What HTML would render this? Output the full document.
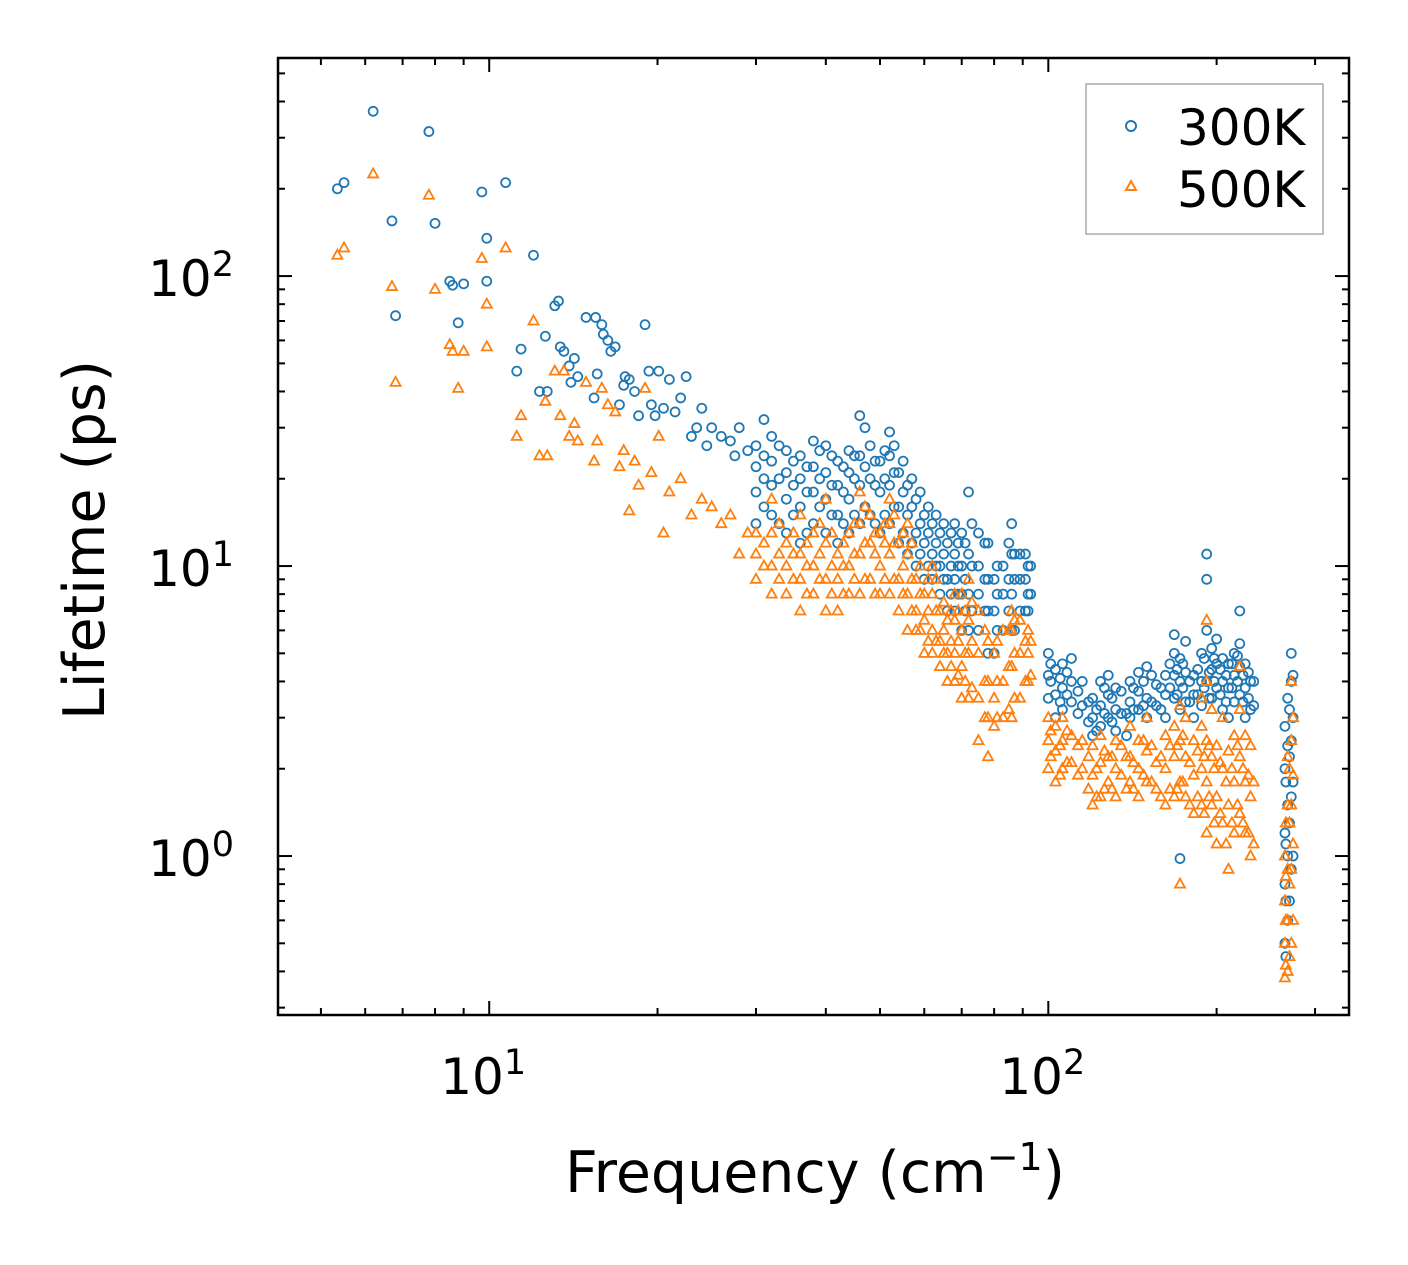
<!DOCTYPE html>
<html><head><meta charset="utf-8"><style>
body{margin:0;background:#fff}
svg{display:block;font-family:"DejaVu Sans","Liberation Sans",sans-serif}
</style></head><body>
<svg id="chart" width="1408" height="1265" viewBox="0 0 1408 1265" xmlns="http://www.w3.org/2000/svg">
<rect width="1408" height="1265" fill="#fff"/>
<g id="marks"></g>
<g id="axes"></g>
<rect x="278" y="58" width="1071" height="957" fill="none" stroke="#000" stroke-width="2.5"/>
<text x="815" y="1192" font-size="57" text-anchor="middle">Frequency (cm<tspan font-size="38" dy="-22">−1</tspan><tspan dy="22">)</tspan></text>
<text transform="translate(104,540) rotate(-90)" font-size="57" text-anchor="middle">Lifetime (ps)</text>
<g>
<rect x="1086" y="84" width="237" height="150" fill="#fff" stroke="#aaa" stroke-width="1.5"/>
<circle cx="1131" cy="126" r="5" fill="none" stroke="#1f77b4" stroke-width="2"/>
<text x="1177" y="145" font-size="50">300K</text>
<path d="M1131,181 L1136,190 L1126,190 Z" fill="none" stroke="#ff7f0e" stroke-width="2"/>
<text x="1177" y="207" font-size="50">500K</text>
</g>
</svg>
<script>
const lowFreq300 = [5.35,5.5,6.2,6.7,6.8,7.8,8.0,8.5,8.6,8.8,9.0,9.7,9.9,9.9,10.7,11.2,11.4,12.0,12.3,12.6,12.7,13.1,13.3,13.4,13.6,13.9,14.0,14.2,14.4,14.9,15.4,15.5,15.6,15.9,16.0,16.3,16.5,16.8,17.1,17.4,17.5,17.8,18.2,18.5,19.0,19.3,19.5,19.8,20.1,20.5,21,21.5,22,22.5,23,23.5,24,24.5,25,26,27,27.5,28,29,31,172];
const lowLife300 = [200,210,370,155,73,315,152,96,93,69,94,195,135,96,210,47,56,118,40,62,40,79,82,57,55,49,43,52,45,72,38,72,46,68,63,60,55,57,36,42,45,44,40,33,68,47,36,33,47,35,44,34,38,45,28,30,35,26,30,28,27,24,30,25,32,0.98];
const lowFreq500 = [5.35,5.5,6.2,6.7,6.8,7.8,8.0,8.5,8.6,8.8,9.0,9.7,9.9,9.9,10.7,11.2,11.4,12.0,12.3,12.6,12.7,13.1,13.4,13.6,13.9,14.2,14.4,14.9,15.4,15.6,15.9,16.3,16.8,17.1,17.4,17.8,18.2,18.5,19.0,19.5,20.1,20.5,21,22,23,24,25,26,27,28,29,172];
const lowLife500 = [118,125,225,92,43,190,90,58,55,41,55,115,80,57,125,28,33,70,24,37,24,47,33,47,28,31,27,43,23,27,41,36,34,22,25,15.5,23,19,41,21,28,13,18,20,15,17,16,14,15,11,13,0.8];
const bandFreq = [30,32,34,36,38,40,42,44,46,48,50,52,54,56,58,60,62,64,66,68,70,72,75,78,80,83,86,89,92,100,103,106,110,113,120,124,128,132,140,145,150,156,162,168,172,176,182,188,192,196,200,205,210,215,220,225,230,265,268,272];
const bandLife300 = [[14,18,22,26],[15,19,23,28],[13,17,21,25],[12,16,20,24],[14,18,22,27],[13,17,21,26],[12,15,19,23],[13,17,21,25],[14,19,24,33],[15,20,26],[13,18,23],[14,19,24,29],[12,16,21],[11,15,19],[10,13,17],[9,12,15],[9,11,14],[8,10,13],[7,9,12],[7,9,11,14],[6,8,10,13],[6,8,11,18],[6,8,10,13],[5,7,9,12],[5,7,9],[6,8,10],[6,8,11,14],[7,9,11],[7,8,10],[3.5,4.2,5],[3,3.6,4.4],[3.2,3.8,4.6],[3.4,4,4.8],[3.1,3.7],[2.6,3,3.5],[2.8,3.3,4],[3,3.6,4.2],[2.7,3.2,3.8],[3,3.4,4],[3.2,3.7,4.3],[3,3.5,4.5],[3.3,3.9],[3,3.6,4.2],[3.5,4.2,5,5.8],[3.2,4,4.8],[3.4,4.3,5.5],[3,3.6,4.2],[3.3,4,5],[4,6,9,11],[3.5,4.4,5.2],[3.8,4.6,5.6],[3.2,4,4.8],[3,3.8,4.6],[3.4,4.2,5],[3.6,4.5,5.4,7],[3,3.8,4.6],[3.2,4],[0.5,0.8,1.2,2,2.8],[0.6,1,1.5,2.4,3.5],[0.9,1.6,2.5,4,5]];
const bandLife500 = [[9,11,13],[8,10,13,17],[8,10,12],[7,9,11,15],[8,10,13],[7,9,12,17],[7,9,11],[8,10,13],[8,11,14,18],[9,12,15],[8,10,13],[8,11,14,17],[7,9,12],[6,8,11,14],[6,7,9],[5,6.5,8],[5,6,8,10],[4.5,5.5,7],[4,5,6.5],[4,5,6.5,8],[3.5,4.5,6,8],[3.5,5,6.5,9],[2.5,3.5,5,7],[2.2,3,4,5.5],[2.8,3.5,5],[3,4,6],[3,4.5,6,7],[3.5,5,6.5],[4,5,6],[2,2.5,3],[1.8,2.3,2.8],[2,2.5,3],[2.1,2.6],[1.9,2.4],[1.5,1.9,2.4],[1.6,2.1,2.6],[1.8,2.2],[1.6,2,2.5],[1.8,2.2,2.8],[1.6,2,2.5],[1.8,2.3,3],[1.7,2.1],[1.5,2,2.6],[1.6,2.2,2.8],[1.8,2.5,3.3],[1.6,2.2,3],[1.4,1.9,2.5],[1.5,2,2.8,3.5],[1.2,1.8,2.5,4,6.5],[1.5,2.2,3.2],[1.1,1.6,2.4],[1.3,2,3],[0.9,1.5,2.3],[1.2,1.8,2.6],[1.4,2.2,3.2,4.5],[1.2,1.8,2.6],[1,1.6,2.4],[0.38,0.5,0.7,1],[0.4,0.6,0.9,1.5,2.2],[0.5,0.9,1.5,2.5,4]];
const band2Freq = [31,33,35,37,39,41,43,45,47,49,51,53,55,57,59,61,63,65,67,69,71,73,77,81,85,87,91,93,101,105,108,115,118,122,126,130,135,138,142,148,153,159,165,170,174,179,185,190,194,198,203,208,213,218,223,228,233,266,270,274];
const band2Life300 = [[16,20,24],[14,20,26],[15,19,23],[13,18,22],[16,20,25],[15,19,24],[14,18,22],[15,20,24],[16,22,30],[14,19,23],[15,20,25],[16,21,26],[13,18,23],[12,16,20],[11,14,18],[10,13,16],[10,12,15],[9,11,14],[8,10,13],[8,10,12],[7,9,12],[7,10,14],[7,9,12],[6,8,10],[7,9,12],[6,9,11],[7,9,11],[8,10],[4,4.6],[3.4,4.1],[3.6,4.3],[3.3,4],[2.9,3.4],[2.7,3.2],[3.1,3.8],[2.9,3.5],[3.1,3.7],[2.6,3.1],[3.2,3.8],[3.3,4],[3.4,4.2],[3.2,3.8],[3.8,4.6],[3.6,4.4],[3.8,4.6],[3.4,4],[3.6,4.4],[3.8,4.8],[3.5,4.3],[4,4.8],[3.6,4.4],[3.4,4.2],[3.8,4.6],[4,4.9],[3.4,4.2],[3.5,4.3],[3.3,4],[0.45,0.7,1.1,1.8],[0.7,1.3,2.2,3.2],[1,1.8,3,4.2]];
const band2Life500 = [[10,12],[9,11,14],[9,11,13],[8,10,12],[9,11,14],[8,10,13],[8,10,12],[9,11,14],[9,12,16],[8,11,13],[9,12,14],[9,12,15],[8,10,13],[7,9,12],[6,8,10],[5.5,7,9],[5.5,7,9],[5,6,7.5],[4.5,5.5,7],[4.2,5.5,7],[4,5,7],[3.8,5.5,7.5],[3,4,6],[3,4,5.5],[3.2,4.5,6],[3.5,5,6.5],[4,5.5],[4.2,5.5],[2.2,2.7],[1.9,2.4],[2.1,2.7],[2,2.5],[1.7,2.2],[1.6,2],[1.7,2.3],[1.7,2.2],[1.9,2.4],[1.7,2.2],[1.7,2.1],[1.9,2.5],[1.8,2.4],[1.6,2.2],[1.7,2.4],[1.7,2.4],[1.8,2.6],[1.5,2.1],[1.6,2.3],[1.4,2.2],[1.6,2.4],[1.3,2],[1.4,2.1],[1.1,1.8],[1.3,2],[1.5,2.4],[1.3,2],[1.2,1.9],[1.1,1.8],[0.42,0.6,0.85,1.3],[0.45,0.8,1.3,2],[0.6,1.1,1.9,3]];
const xMajor = [10,100];
const yMajor = [1,10,100];

const X0=278,X1=1349,Y0=58,Y1=1015;
const xmin=Math.log10(4.19), xmax=Math.log10(345), ymin=Math.log10(0.283), ymax=Math.log10(565);
const xs=v=>X0+(Math.log10(v)-xmin)/(xmax-xmin)*(X1-X0);
const ys=v=>Y1-(Math.log10(v)-ymin)/(ymax-ymin)*(Y1-Y0);
const NS="http://www.w3.org/2000/svg";
const marks=document.getElementById('marks'), axes=document.getElementById('axes');
function mk(tag,attrs,parent){const e=document.createElementNS(NS,tag);for(const k in attrs)e.setAttribute(k,attrs[k]);parent.appendChild(e);return e;}

function circ(f,l){const c=mk('circle',{cx:xs(f),cy:ys(l),r:4.5,fill:'none',stroke:'#1f77b4','stroke-width':1.8},marks);

}
function tri(f,l){const x=xs(f),y=ys(l);const p=mk('path',{d:`M${x},${y-5.5} L${x+5},${y+3.5} L${x-5},${y+3.5} Z`,fill:'none',stroke:'#ff7f0e','stroke-width':1.8},marks);

}

function drawGroups(fr,lv,fn){fr.forEach((f,i)=>{(lv[i]||[]).forEach(l=>fn(f,l));});}
lowFreq300.forEach((f,i)=>circ(f,lowLife300[i]));
drawGroups(bandFreq,bandLife300,circ);
drawGroups(band2Freq,band2Life300,circ);
lowFreq500.forEach((f,i)=>tri(f,lowLife500[i]));
drawGroups(bandFreq,bandLife500,tri);
drawGroups(band2Freq,band2Life500,tri);

function xtick(v,len){const x=xs(v);mk('line',{x1:x,x2:x,y1:Y1,y2:Y1-len,stroke:'#000','stroke-width':2},axes);mk('line',{x1:x,x2:x,y1:Y0,y2:Y0+len,stroke:'#000','stroke-width':2},axes);}
function ytick(v,len){const y=ys(v);mk('line',{x1:X0,x2:X0+len,y1:y,y2:y,stroke:'#000','stroke-width':2},axes);mk('line',{x1:X1,x2:X1-len,y1:y,y2:y,stroke:'#000','stroke-width':2},axes);}
[5,6,7,8,9,20,30,40,50,60,70,80,90,200,300].forEach(v=>xtick(v,7));
[0.3,0.4,0.5,0.6,0.7,0.8,0.9,2,3,4,5,6,7,8,9,20,30,40,50,60,70,80,90,200,300,400,500].forEach(v=>ytick(v,7));
xMajor.forEach(v=>{xtick(v,14);const e=Math.round(Math.log10(v));
const t=mk('text',{x:xs(v)-6,y:1094,'font-size':50,'text-anchor':'middle'},axes);t.textContent='10';
const s=mk('tspan',{dy:-20,'font-size':35},t);s.textContent=String(e);

});
yMajor.forEach(v=>{ytick(v,14);const e=Math.round(Math.log10(v));
const t=mk('text',{x:234,y:ys(v)+20,'font-size':50,'text-anchor':'end'},axes);t.textContent='10';
const s=mk('tspan',{dy:-20,'font-size':35},t);s.textContent=String(e);

});
</script>
</body></html>
